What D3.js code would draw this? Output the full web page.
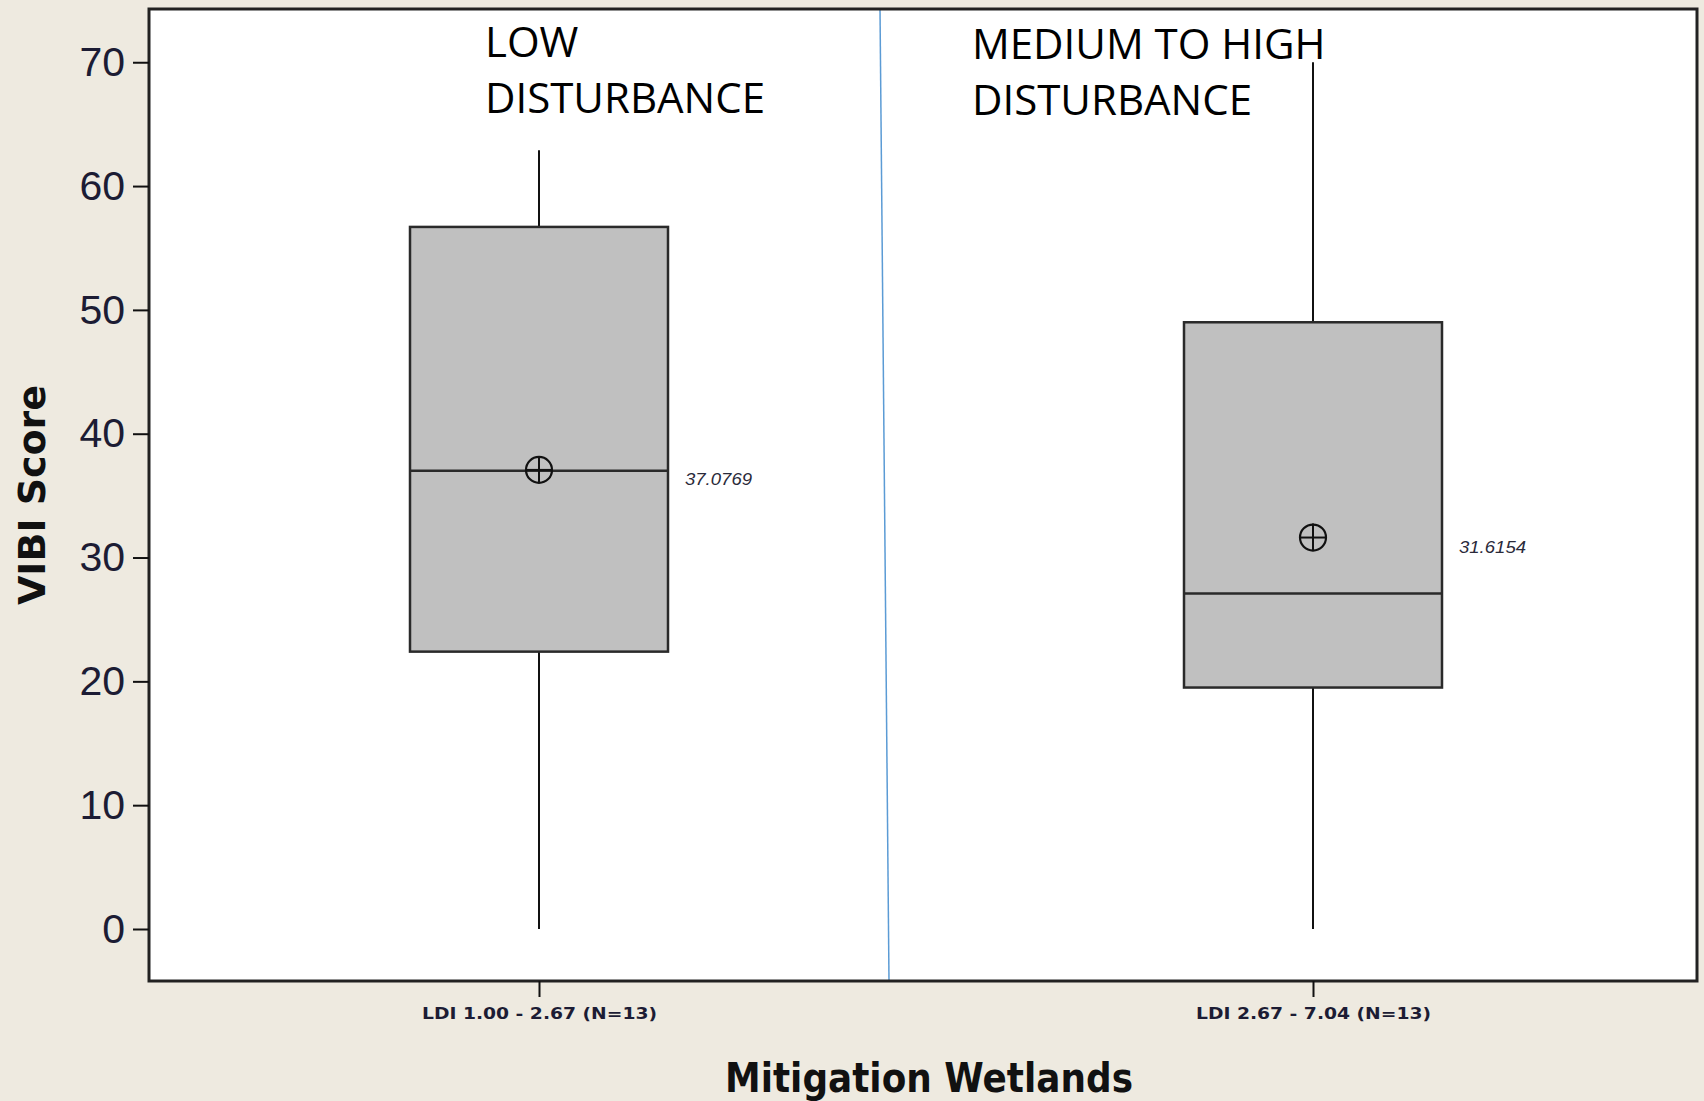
<!DOCTYPE html>
<html>
<head>
<meta charset="utf-8">
<script src="https://cdn.jsdelivr.net/npm/d3@7"></script>
<style>
  body { margin: 0; background: #eeeae0; }
  svg { display: block; }
</style>
</head>
<body>
<div id="chart"></div>
<script>
// box plot summary
const categories = ["LDI 1.00 - 2.67 (N=13)", "LDI 2.67 - 7.04 (N=13)"];
const whiskerLow = [0, 0];
const q1 = [22.4, 19.5];
const medians = [37.0, 27.1];
const q3 = [56.7, 49.0];
const whiskerHigh = [62.9, 70];
const means = [37.0769, 31.6154];
const yTicks = [0, 10, 20, 30, 40, 50, 60, 70];
const notes = [["LOW", "DISTURBANCE"], ["MEDIUM TO HIGH", "DISTURBANCE"]];

const width = 1704, height = 1101;
const frame = { left: 149, top: 9, right: 1697, bottom: 981 };

const svg = d3.select("#chart").append("svg")
  .attr("width", width)
  .attr("height", height);

const x = d3.scalePoint()
  .domain(categories)
  .range([frame.left + 3, frame.right + 3])
  .padding(0.5);

const y = d3.scaleLinear()
  .domain([-4.2, 74.3])
  .range([frame.bottom, frame.top]);

const boxW = x.step() / 3;

// plot area
svg.append("rect")
  .attr("x", frame.left)
  .attr("y", frame.top)
  .attr("width", frame.right - frame.left)
  .attr("height", frame.bottom - frame.top)
  .attr("fill", "#fff");

// divider drawn by hand in the original
svg.append("line")
  .attr("x1", 880).attr("y1", frame.top)
  .attr("x2", 889).attr("y2", frame.bottom)
  .attr("stroke", "#5b9bd5")
  .attr("stroke-width", 1.5);

const rows = categories.map((c, i) => ({
  cat: c, lo: whiskerLow[i], q1: q1[i], med: medians[i],
  q3: q3[i], hi: whiskerHigh[i], mean: means[i]
}));

const g = svg.append("g");
const box = g.selectAll("g.box").data(rows).enter().append("g").attr("class", "box");

// whiskers
box.append("line")
  .attr("x1", d => x(d.cat)).attr("x2", d => x(d.cat))
  .attr("y1", d => y(d.hi)).attr("y2", d => y(d.q3))
  .attr("stroke", "#111").attr("stroke-width", 2);
box.append("line")
  .attr("x1", d => x(d.cat)).attr("x2", d => x(d.cat))
  .attr("y1", d => y(d.q1)).attr("y2", d => y(d.lo))
  .attr("stroke", "#111").attr("stroke-width", 2);

box.append("rect")
  .attr("x", d => x(d.cat) - boxW / 2)
  .attr("y", d => y(d.q3))
  .attr("width", boxW)
  .attr("height", d => y(d.q1) - y(d.q3))
  .attr("fill", "#c0c0c0")
  .attr("stroke", "#2a2a2a")
  .attr("stroke-width", 2.5);

box.append("line")
  .attr("x1", d => x(d.cat) - boxW / 2).attr("x2", d => x(d.cat) + boxW / 2)
  .attr("y1", d => y(d.med)).attr("y2", d => y(d.med))
  .attr("stroke", "#2a2a2a").attr("stroke-width", 2.5);

// mean symbol (circle with cross)
const r = 13;
box.append("circle")
  .attr("cx", d => x(d.cat)).attr("cy", d => y(d.mean))
  .attr("r", r)
  .attr("fill", "none").attr("stroke", "#111").attr("stroke-width", 2.2);
box.append("line")
  .attr("x1", d => x(d.cat) - r).attr("x2", d => x(d.cat) + r)
  .attr("y1", d => y(d.mean)).attr("y2", d => y(d.mean))
  .attr("stroke", "#111").attr("stroke-width", 2);
box.append("line")
  .attr("x1", d => x(d.cat)).attr("x2", d => x(d.cat))
  .attr("y1", d => y(d.mean) - r - 1).attr("y2", d => y(d.mean) + r)
  .attr("stroke", "#111").attr("stroke-width", 2);

box.append("text")
  .attr("x", d => x(d.cat) + boxW / 2 + 17)
  .attr("y", d => y(d.mean) + 15)
  .attr("font-family", "Liberation Sans, Arial, sans-serif")
  .attr("font-style", "italic")
  .attr("font-size", 17)
  .attr("textLength", 67)
  .attr("lengthAdjust", "spacingAndGlyphs")
  .attr("fill", "#2a2a3a")
  .text(d => d.mean.toFixed(4));

// frame
svg.append("rect")
  .attr("x", frame.left)
  .attr("y", frame.top)
  .attr("width", frame.right - frame.left)
  .attr("height", frame.bottom - frame.top)
  .attr("fill", "none")
  .attr("stroke", "#222")
  .attr("stroke-width", 3);

// y axis
const yAxis = svg.append("g")
  .attr("transform", `translate(${frame.left},0)`)
  .call(d3.axisLeft(y).tickValues(yTicks).tickSize(16).tickPadding(8));
yAxis.select(".domain").remove();
yAxis.selectAll(".tick line").attr("stroke", "#111").attr("stroke-width", 2);
yAxis.selectAll(".tick text")
  .attr("font-family", "Liberation Sans, Arial, sans-serif")
  .attr("font-size", 41)
  .attr("fill", "#1c1c34");

// x axis
const xAxis = svg.append("g")
  .attr("transform", `translate(0,${frame.bottom})`)
  .call(d3.axisBottom(x).tickSize(16).tickPadding(11));
xAxis.select(".domain").remove();
xAxis.selectAll(".tick line").attr("stroke", "#111").attr("stroke-width", 2);
xAxis.selectAll(".tick text")
  .attr("font-family", "DejaVu Sans, sans-serif")
  .attr("font-weight", "bold")
  .attr("font-size", 16)
  .attr("textLength", 235)
  .attr("lengthAdjust", "spacingAndGlyphs")
  .attr("fill", "#1c1c34");

// axis titles
svg.append("text")
  .attr("transform", `translate(45,${(frame.top + frame.bottom) / 2}) rotate(-90)`)
  .attr("text-anchor", "middle")
  .attr("font-family", "DejaVu Sans, sans-serif")
  .attr("font-weight", "bold")
  .attr("font-size", 38)
  .attr("textLength", 220)
  .attr("lengthAdjust", "spacingAndGlyphs")
  .attr("fill", "#111")
  .text("VIBI Score");

svg.append("text")
  .attr("x", 929)
  .attr("y", 1092)
  .attr("text-anchor", "middle")
  .attr("font-family", "DejaVu Sans, sans-serif")
  .attr("font-weight", "bold")
  .attr("font-size", 41)
  .attr("textLength", 408)
  .attr("lengthAdjust", "spacingAndGlyphs")
  .attr("fill", "#111")
  .text("Mitigation Wetlands");

// disturbance notes
const notePos = [{ x: 485, y: 57 }, { x: 972, y: 59 }];
notes.forEach((lines, i) => {
  const t = svg.append("text")
    .attr("font-family", "Open Sans, Noto Sans, sans-serif")
    .attr("font-size", 42)
    .attr("fill", "#000");
  lines.forEach((s, j) => {
    t.append("tspan")
      .attr("x", notePos[i].x)
      .attr("y", notePos[i].y + j * 56)
      .text(s);
  });
});
</script>
</body>
</html>
